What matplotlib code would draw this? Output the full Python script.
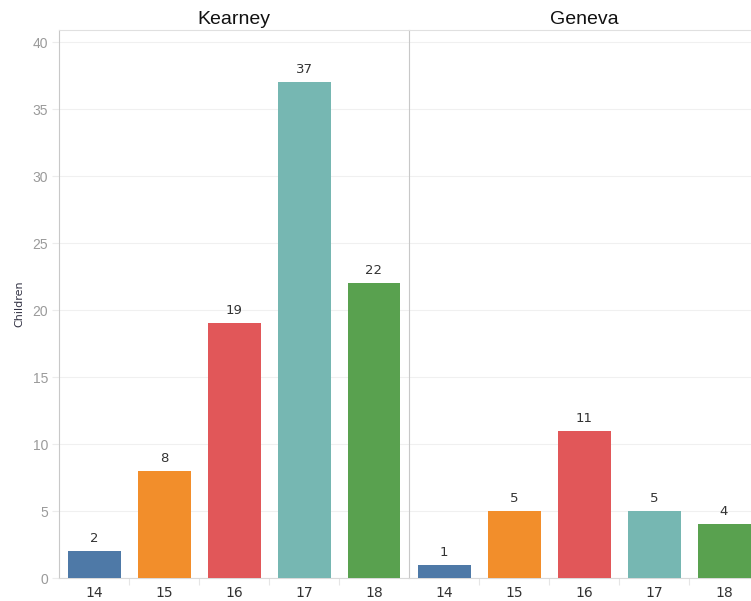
import matplotlib.pyplot as plt
import numpy as np

plt.rcParams['font.family'] = ['Liberation Sans', 'DejaVu Sans']

# children by age, per town
ages = ['14', '15', '16', '17', '18']
kearney = [2, 8, 19, 37, 22]
geneva = [1, 5, 11, 5, 4]
towns = ['Kearney', 'Geneva']
colors = ['#4E79A7', '#F28E2B', '#E15759', '#76B7B2', '#59A14F']

W, H = 751, 601
fig = plt.figure(figsize=(W / 100, H / 100), dpi=100)

left_px, split_px, right_px = 59, 409, 759
top_px, bot_px = 30, 578
y_top = 40 + (42 - top_px) / ((577 - 42) / 40)

panels = [(left_px, split_px, kearney), (split_px, right_px, geneva)]
x = np.arange(len(ages))

for i, (x0, x1, vals) in enumerate(panels):
    ax = fig.add_axes([x0 / W, 1 - bot_px / H, (x1 - x0) / W, (bot_px - top_px) / H])
    ax.bar(x, vals, width=53 / 70, color=colors, zorder=3)
    for xi, v in zip(x, vals):
        ax.text(xi, v + 0.45, str(v), ha='center', va='bottom',
                fontsize=9.5, color='#333333', family='DejaVu Sans')
    ax.set_xlim(-0.5, len(ages) - 0.5)
    ax.set_ylim(0, y_top)
    ax.set_yticks(np.arange(0, 41, 5))
    ax.yaxis.grid(True, color='#f0f0f0', lw=0.8, zorder=0)
    ax.set_xticks(x)
    ax.set_xticklabels(ages, fontsize=10, color='#333333', family='DejaVu Sans')
    ax.set_xticks(np.arange(0.5, len(ages) - 1, 1), minor=True)
    ax.tick_params(axis='x', which='major', length=0, pad=6)
    ax.tick_params(axis='x', which='minor', length=5, color='#e6e6e6', width=0.8)
    ax.spines['right'].set_visible(False)
    ax.spines['top'].set_color('#e0e0e0')
    ax.spines['bottom'].set_color('#d9d9d9')
    ax.spines['left'].set_color('#c8c8c8')
    if i == 0:
        ax.set_yticklabels([str(t) for t in range(0, 41, 5)])
        ax.tick_params(axis='y', length=5, color='#ececec', labelsize=10,
                       labelcolor='#9a9a9a', pad=3)
        ax.set_ylabel('Children', fontsize=8, color='#333344',
                      family='DejaVu Sans')
        ax.yaxis.set_label_coords((24 - x0) / (x1 - x0), 0.5)
    else:
        ax.tick_params(axis='y', length=0, labelleft=False)
    ax.set_title(towns[i], fontsize=14, color='#111111', pad=4)

fig.savefig('out.png', dpi=100)
